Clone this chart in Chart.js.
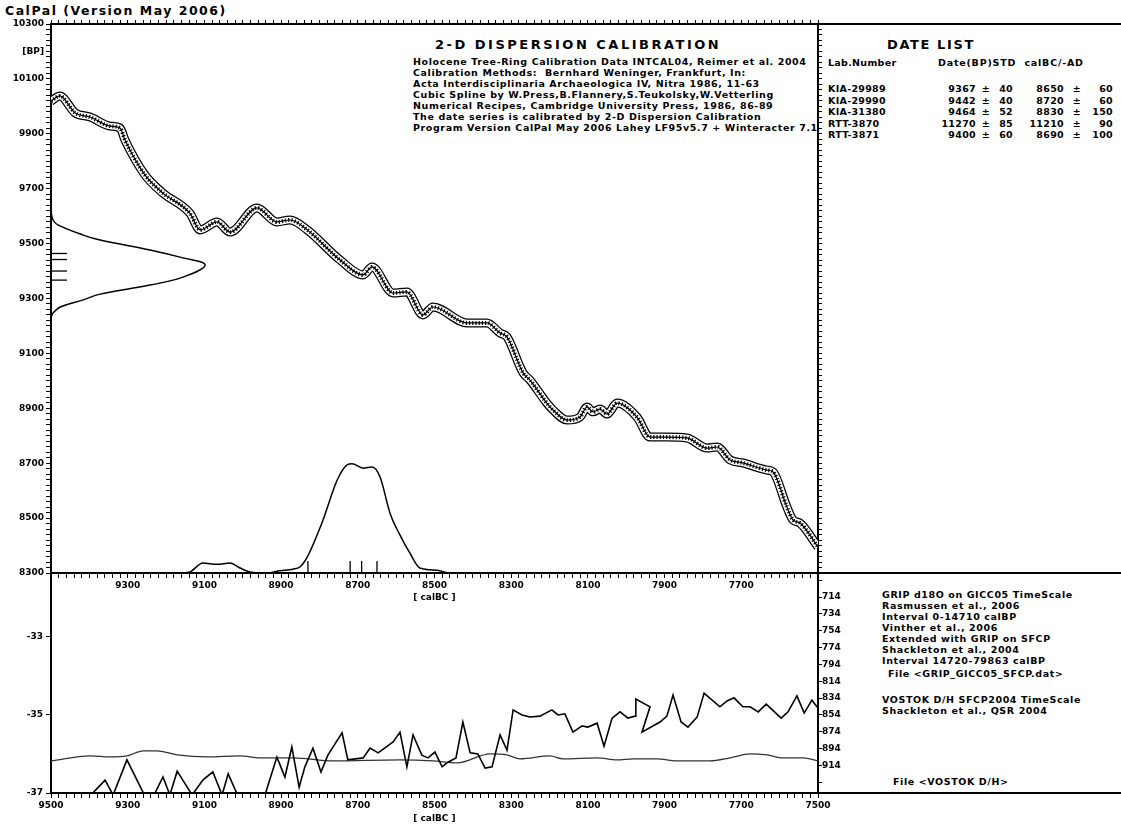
<!DOCTYPE html>
<html>
<head>
<meta charset="utf-8">
<title>CalPal 2-D Dispersion Calibration</title>
<script src="https://cdn.jsdelivr.net/npm/chart.js"></script>
<style>
  body { margin: 0; width: 1121px; height: 824px; background: #fff; overflow: hidden; position: relative;
         font-family: "DejaVu Sans", Verdana, sans-serif; font-weight: bold; color: #000; }
  canvas { position: absolute; left: 0; }
  .t { position: absolute; white-space: pre; font-size: 9.5px; letter-spacing: 0.6px; line-height: 11px; }
  .h { position: absolute; white-space: pre; font-size: 13px; letter-spacing: 1.6px; }
  .ln { position: absolute; background: #000; }
  .r { position: absolute; font-size: 9.5px; letter-spacing: 0.3px; text-align: right; white-space: pre; }
</style>
</head>
<body>
<canvas id="topChart" width="1121" height="610" style="top:0; z-index:2"></canvas>
<canvas id="botChart" width="1121" height="264" style="top:560px; z-index:1"></canvas>

<div class="h" style="left:5px; top:3px; font-size:12.5px; letter-spacing:1.5px">CalPal (Version May 2006)</div>

<div class="h" style="left:435px; top:37px; letter-spacing:2.5px">2-D DISPERSION CALIBRATION</div>
<div class="t" style="left:413px; top:56px">Holocene Tree-Ring Calibration Data INTCAL04, Reimer et al. 2004
Calibration Methods:  Bernhard Weninger, Frankfurt, In:
Acta Interdisciplinaria Archaeologica IV, Nitra 1986, 11-63
Cubic Spline by W.Press,B.Flannery,S.Teukolsky,W.Vetterling
Numerical Recipes, Cambridge University Press, 1986, 86-89
The date series is calibrated by 2-D Dispersion Calibration
Program Version CalPal May 2006 Lahey LF95v5.7 + Winteracter 7.1</div>

<div class="h" style="left:887px; top:37px">DATE LIST</div>
<div class="t" style="left:828px; top:57px; letter-spacing:0.3px">Lab.Number</div>
<div class="t" style="left:938px; top:57px; letter-spacing:0.8px">Date(BP)STD  calBC/-AD</div>
<div id="dateList"></div>

<div class="t" style="left:882px; top:589px">GRIP d18O on GICC05 TimeScale
Rasmussen et al., 2006
Interval 0-14710 calBP
Vinther et al., 2006
Extended with GRIP on SFCP
Shackleton et al., 2004
Interval 14720-79863 calBP</div>
<div class="t" style="left:888px; top:668px">File &lt;GRIP_GICC05_SFCP.dat&gt;</div>
<div class="t" style="left:882px; top:694px">VOSTOK D/H SFCP2004 TimeScale
Shackleton et al., QSR 2004</div>
<div class="t" style="left:893px; top:776px">File &lt;VOSTOK D/H&gt;</div>

<div class="ln" style="left:818px; top:23px; width:303px; height:2px"></div>
<div class="ln" style="left:818px; top:572px; width:303px; height:2px"></div>
<div class="ln" style="left:818px; top:792px; width:303px; height:2px"></div>

<script>
// calibration curve INTCAL04 (calBC -> BP)
const curveCalBC = [9500, 9477, 9437, 9398, 9346, 9320, 9307, 9255, 9208, 9138, 9111, 9067, 9033, 8963, 8911, 8877, 8832, 8746, 8686, 8663, 8608, 8572, 8530, 8504, 8415, 8363, 8329, 8311, 8269, 8251, 8207, 8191, 8154, 8121, 8102, 8087, 8068, 8050, 8024, 7972, 7938, 7894, 7842, 7789, 7763, 7729, 7696, 7633, 7617, 7581, 7565, 7547, 7500];
const curveBP = [10019, 10038, 9976, 9961, 9928, 9921, 9877, 9750, 9684, 9611, 9550, 9579, 9542, 9630, 9579, 9586, 9550, 9440, 9386, 9415, 9320, 9324, 9240, 9269, 9211, 9211, 9174, 9160, 9029, 9003, 8919, 8894, 8857, 8868, 8905, 8887, 8897, 8879, 8919, 8868, 8795, 8795, 8792, 8755, 8759, 8712, 8701, 8675, 8668, 8540, 8493, 8482, 8395];

// summed 14C probability (along BP axis)
const bpDensBP = [9640, 9611, 9586, 9568, 9531, 9513, 9477, 9448, 9422, 9378, 9349, 9316, 9295, 9269, 9247, 9233, 9200];
const bpDensVal = [0, 0.05, 0.26, 0.9, 4.2, 6.4, 12.9, 17.2, 20.1, 17.2, 12.9, 6.4, 4.2, 1.2, 0.26, 0.05, 0];

// calibrated probability (along calBC axis)
const calDensBC = [9500, 9164, 9138, 9104, 9067, 9033, 9007, 8981, 8937, 8903, 8869, 8851, 8832, 8791, 8754, 8728, 8715, 8686, 8663, 8642, 8616, 8590, 8564, 8538, 8493, 8460, 7500];
const calDensVal = [0, 0, 0.2, 1.8, 1.6, 1.8, 0.9, 0.2, 0, 0.4, 0.7, 1.1, 2.9, 9.6, 16.9, 19.7, 19.9, 19.1, 19.3, 17.5, 10.9, 6.9, 3.6, 0.9, 0.5, 0, 0];

// date list
const labNumbers = ['KIA-29989', 'KIA-29990', 'KIA-31380', 'RTT-3870', 'RTT-3871'];
const dateBP = [9367, 9442, 9464, 11270, 9400];
const dateSTD = [40, 40, 52, 85, 60];
const dateCalBC = [8650, 8720, 8830, 11210, 8690];
const dateCalSTD = [60, 60, 150, 90, 100];

// GRIP d18O (GICC05)
const gripAge = [9500, 9420, 9359, 9338, 9302, 9244, 9208, 9190, 9171, 9132, 9104, 9078, 9054, 9038, 9007, 8976, 8950, 8911, 8890, 8872, 8853, 8838, 8817, 8796, 8778, 8741, 8726, 8686, 8668, 8647, 8608, 8590, 8572, 8556, 8533, 8517, 8499, 8480, 8465, 8444, 8426, 8407, 8387, 8368, 8350, 8329, 8311, 8295, 8272, 8251, 8225, 8194, 8178, 8160, 8139, 8115, 8100, 8076, 8058, 8037, 8016, 7996, 7977, 7975, 7938, 7959, 7912, 7894, 7878, 7857, 7839, 7815, 7797, 7756, 7737, 7719, 7696, 7677, 7656, 7635, 7596, 7578, 7555, 7536, 7516, 7500];
const gripVal = [-37.8, -37.3, -36.67, -37.05, -36.15, -37.3, -36.59, -37.05, -36.44, -37.05, -36.67, -36.46, -37.05, -36.51, -37.2, -37.4, -37.3, -36.08, -36.59, -35.82, -36.85, -36.33, -35.85, -36.46, -36.03, -35.46, -36.15, -36.10, -35.85, -35.97, -35.69, -35.44, -36.33, -35.51, -36.03, -36.10, -35.95, -36.33, -36.21, -36.10, -35.18, -35.97, -36.00, -36.36, -36.33, -35.51, -35.90, -34.87, -35.00, -35.05, -35.03, -34.87, -35.00, -34.97, -35.44, -35.28, -35.31, -35.21, -35.80, -35.08, -34.92, -35.08, -35.03, -34.59, -34.79, -35.44, -35.18, -35.03, -34.49, -35.18, -35.31, -35.05, -34.44, -34.79, -34.64, -34.56, -34.79, -34.79, -34.92, -34.72, -35.08, -34.92, -34.51, -34.95, -34.62, -34.82];

// VOSTOK D/H (SFCP2004)
const vostokAge = [9500, 9398, 9346, 9302, 9260, 9224, 9171, 9093, 9007, 8955, 8869, 8765, 8590, 8504, 8441, 8355, 8311, 8277, 8199, 8165, 8076, 8024, 7982, 7920, 7868, 7782, 7729, 7677, 7633, 7591, 7539, 7500];
const vostokVal = [908.6, 902.7, 903.9, 902.7, 896.7, 896.7, 901.5, 903.9, 902.7, 905.0, 905.0, 908.6, 907.4, 908.6, 911.0, 900.3, 901.5, 906.2, 902.7, 906.2, 905.0, 907.4, 906.2, 906.2, 908.6, 908.6, 905.0, 900.3, 901.5, 905.0, 905.0, 908.6];

const xy = (xs, ys) => xs.map((x, i) => ({ x: x, y: ys[i] }));
const tickFont = { family: 'DejaVu Sans', size: 9, weight: 'bold' };
const black = '#000';

// date list as text
const dl = document.getElementById('dateList');
labNumbers.forEach((lab, i) => {
  const top = 83 + i * 11.5;
  const cells = [
    ['t', 828, lab],
    ['r', 976, String(dateBP[i])],
    ['r', 990, '\u00b1'],
    ['r', 1013, String(dateSTD[i])],
    ['r', 1064, String(dateCalBC[i])],
    ['r', 1081, '\u00b1'],
    ['r', 1113, String(dateCalSTD[i])]
  ];
  cells.forEach(c => {
    const d = document.createElement('div');
    d.className = c[0];
    d.textContent = c[2];
    d.style.top = top + 'px';
    if (c[0] === 't') { d.style.left = c[1] + 'px'; d.style.letterSpacing = '0.3px'; }
    else d.style.right = (1121 - c[1]) + 'px';
    dl.appendChild(d);
  });
});

function fixW(w) { return s => { s.width = w; }; }
function fixH(h) { return s => { s.height = h; }; }

// short marks of the dates on both axes
const dateMarks = {
  id: 'dateMarks',
  afterDatasetsDraw(chart) {
    const { ctx, chartArea, scales } = chart;
    ctx.save();
    ctx.strokeStyle = black;
    ctx.lineWidth = 1.3;
    dateBP.forEach(v => {
      if (v < scales.y.min || v > scales.y.max) return;
      const py = scales.y.getPixelForValue(v);
      ctx.beginPath(); ctx.moveTo(chartArea.left, py); ctx.lineTo(chartArea.left + 16, py); ctx.stroke();
    });
    dateCalBC.forEach(v => {
      if (v < scales.x.min || v > scales.x.max) return;
      const px = scales.x.getPixelForValue(v);
      ctx.beginPath(); ctx.moveTo(px, chartArea.bottom); ctx.lineTo(px, chartArea.bottom - 12); ctx.stroke();
    });
    ctx.restore();
  }
};

const curve = xy(curveCalBC, curveBP);

new Chart(document.getElementById('topChart'), {
  type: 'scatter',
  data: {
    datasets: [
      { data: curve, showLine: true, pointRadius: 0, borderColor: black, borderWidth: 1.2, cubicInterpolationMode: 'monotone', order: 1 },
      { data: curve, showLine: true, pointRadius: 0, borderColor: black, borderWidth: 4, borderDash: [1.2, 2], cubicInterpolationMode: 'monotone', order: 2 },
      { data: curve, showLine: true, pointRadius: 0, borderColor: '#fff', borderWidth: 6.5, cubicInterpolationMode: 'monotone', order: 3 },
      { data: curve, showLine: true, pointRadius: 0, borderColor: black, borderWidth: 9, cubicInterpolationMode: 'monotone', order: 4 },
      { data: xy(bpDensVal, bpDensBP), xAxisID: 'xd', yAxisID: 'y', showLine: true, pointRadius: 0, borderColor: black, borderWidth: 1.5, tension: 0.4, order: 5 },
      { data: xy(calDensBC, calDensVal), xAxisID: 'x', yAxisID: 'yd', showLine: true, pointRadius: 0, borderColor: black, borderWidth: 1.5, cubicInterpolationMode: 'monotone', order: 6 }
    ]
  },
  options: {
    responsive: false,
    animation: false,
    layout: { padding: { top: 18, left: 0, right: 297, bottom: 7 } },
    plugins: { legend: { display: false }, tooltip: { enabled: false } },
    scales: {
      x: {
        type: 'linear', position: 'bottom', min: 7500, max: 9500, reverse: true,
        ticks: { stepSize: 20, autoSkip: false, maxRotation: 0, padding: 2, color: black, font: tickFont,
                 callback: v => (v % 200 === 100 && v !== 9500 && v !== 7500) ? String(v) : '' },
        grid: { drawOnChartArea: false, tickLength: 5, color: black, lineWidth: 1 },
        border: { color: black, width: 2 },
        title: { display: true, text: '[ calBC ]', color: black, font: tickFont, padding: { top: 0, bottom: 0 } },
        afterFit: fixH(30)
      },
      xTop: {
        type: 'linear', position: 'top', min: 7500, max: 9500, reverse: true,
        ticks: { stepSize: 20, autoSkip: false, display: false },
        grid: { drawOnChartArea: false, tickLength: 4, color: black },
        border: { color: black, width: 2 },
        afterFit: fixH(6)
      },
      xd: { type: 'linear', display: false, min: 0, max: 100 },
      y: {
        type: 'linear', position: 'left', min: 8300, max: 10300,
        ticks: { stepSize: 20, autoSkip: false, padding: 2, color: black, font: tickFont,
                 callback: v => v === 10200 ? '[BP]' : (v % 200 === 100 ? String(v) : '') },
        grid: { drawOnChartArea: false, tickLength: 5, color: black },
        border: { color: black, width: 2 },
        afterFit: fixW(51)
      },
      yR: {
        type: 'linear', position: 'right', min: 8300, max: 10300,
        ticks: { stepSize: 20, autoSkip: false, display: false },
        grid: { drawOnChartArea: false, tickLength: 4, color: black },
        border: { color: black, width: 2 },
        afterFit: fixW(6)
      },
      yd: { type: 'linear', display: false, min: 0, max: 100 }
    }
  },
  plugins: [dateMarks]
});

new Chart(document.getElementById('botChart'), {
  type: 'scatter',
  data: {
    datasets: [
      { data: xy(gripAge, gripVal), yAxisID: 'y', showLine: true, pointRadius: 0, borderColor: black, borderWidth: 1.6, tension: 0 },
      { data: xy(vostokAge, vostokVal), yAxisID: 'yV', showLine: true, pointRadius: 0, borderColor: '#333', borderWidth: 1.3, cubicInterpolationMode: 'monotone' }
    ]
  },
  options: {
    responsive: false,
    animation: false,
    layout: { padding: { top: 13, left: 0, right: 1121 - 818 - 30, bottom: 0 } },
    plugins: { legend: { display: false }, tooltip: { enabled: false } },
    scales: {
      x: {
        type: 'linear', position: 'bottom', min: 7500, max: 9500, reverse: true,
        ticks: { stepSize: 20, autoSkip: false, maxRotation: 0, padding: 2, color: black, font: tickFont,
                 callback: v => v % 200 === 100 ? String(v) : '' },
        grid: { drawOnChartArea: false, tickLength: 5, color: black },
        border: { color: black, width: 2 },
        title: { display: true, text: '[ calBC ]', color: black, font: tickFont, padding: { top: 0, bottom: 0 } },
        afterFit: fixH(31)
      },
      y: {
        type: 'linear', position: 'left', min: -37, max: -31.36,
        afterBuildTicks: s => { s.ticks = [-37, -35, -33].map(v => ({ value: v })); },
        ticks: { padding: 3, color: black, font: tickFont },
        grid: { drawOnChartArea: false, tickLength: 5, color: black },
        border: { color: black, width: 2 },
        afterFit: fixW(51)
      },
      yV: {
        type: 'linear', position: 'right', min: 685.3, max: 946.8, reverse: true,
        afterBuildTicks: s => {
          const t = [];
          for (let v = 694; v <= 944; v += 10) t.push({ value: v });
          s.ticks = t;
        },
        ticks: { padding: 0, color: black, font: tickFont,
                 callback: v => (v >= 714 && v <= 914 && (v - 714) % 20 === 0) ? String(v) : '' },
        grid: { drawOnChartArea: false, tickLength: 4, color: black },
        border: { color: black, width: 2 },
        afterFit: fixW(30)
      }
    }
  }
});
</script>
</body>
</html>
